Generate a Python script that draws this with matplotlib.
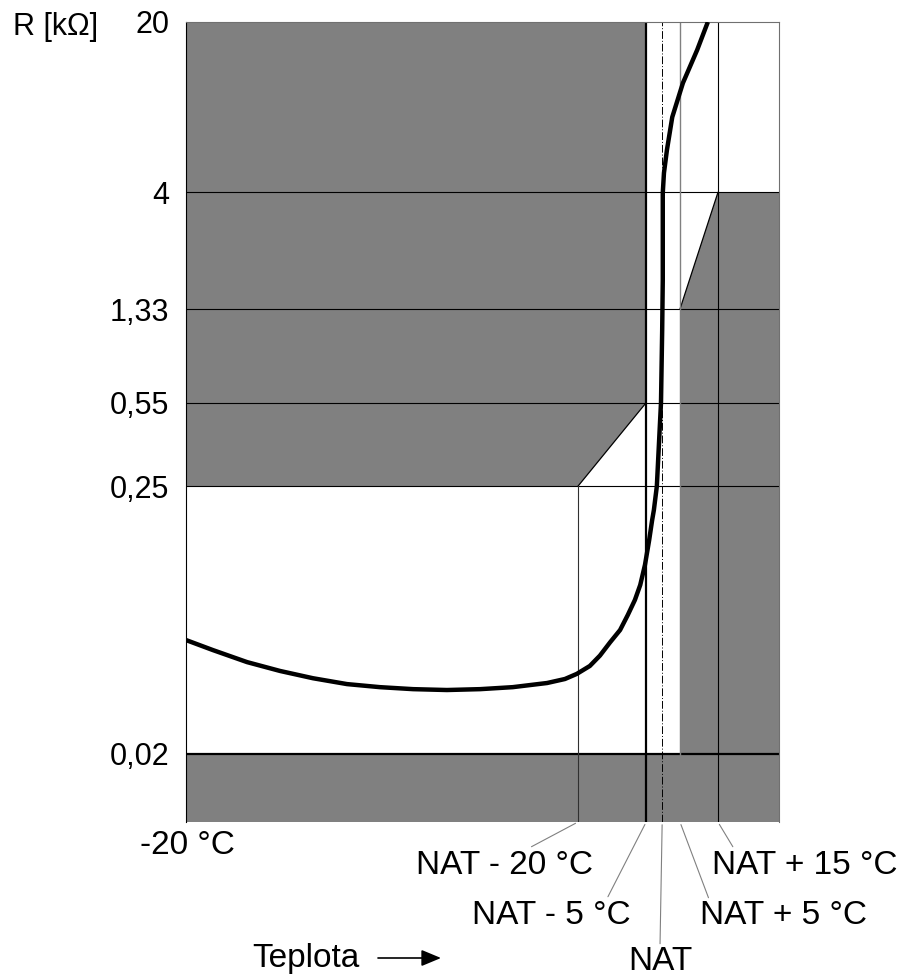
import matplotlib
matplotlib.use("Agg")
import matplotlib.pyplot as plt
from matplotlib.patches import Polygon

plt.rcParams['font.family'] = ['Liberation Sans', 'DejaVu Sans']

# resistance levels on the (log) y axis
r_ticks = [0.02, 0.25, 0.55, 1.33, 4, 20]
r_tick_labels = ['0,02', '0,25', '0,55', '1,33', '4', '20']
r_min = 0.0105

# schematic temperature axis (0 = -20 °C, 100 = right edge)
x_min, x_max = 0, 100
x_marks = [66.1, 77.6, 80.3, 83.3, 89.7]
x_labels = ['NAT - 20 °C', 'NAT - 5 °C', 'NAT', 'NAT + 5 °C', 'NAT + 15 °C']

# sensor curve
curve_x = [0, 4.55, 10.3, 15.85, 21.4, 27.15, 32.7, 38.3, 44.0, 49.6, 55.1, 60.9,
           63.9, 65.9, 68.1, 69.8, 71.5, 73.2, 74.5, 75.7, 76.6, 77.4, 78.1, 78.6,
           78.9, 79.4, 80.1, 80.3, 80.4, 80.4, 80.6, 81.1, 82.0, 83.8, 86.2, 88.0]
curve_r = [0.0585, 0.0532, 0.0475, 0.0437, 0.0408, 0.0386, 0.0375, 0.0368, 0.0365,
           0.0368, 0.0375, 0.0390, 0.0405, 0.0425, 0.0458, 0.0505, 0.0572, 0.0643,
           0.0741, 0.0854, 0.0984, 0.119, 0.150, 0.181, 0.1996, 0.25, 0.55, 1.09,
           1.75, 3.98, 4.81, 5.97, 8.15, 11.25, 15.36, 20]

gray = '#808080'

fig = plt.figure(figsize=(9.01, 9.76), dpi=100)
ax = fig.add_axes([186/901, 1-822/976, 593/901, 800/976])
ax.set_yscale('log')
ax.set_xlim(x_min, x_max)
ax.set_ylim(r_min, r_ticks[-1])

# forbidden zones
upper_left = [(x_min, r_ticks[-1]), (x_marks[1], r_ticks[-1]), (x_marks[1], r_ticks[2]),
              (x_marks[0], r_ticks[1]), (x_min, r_ticks[1])]
bottom = [(x_min, r_min), (x_max, r_min), (x_max, r_ticks[0]), (x_min, r_ticks[0])]
right = [(x_marks[3], r_ticks[0]), (x_marks[3], r_ticks[3]), (x_marks[4], r_ticks[4]),
         (x_max, r_ticks[4]), (x_max, r_min), (x_marks[3], r_min)]
for pts in (upper_left, bottom, right):
    ax.add_patch(Polygon(pts, closed=True, facecolor=gray, edgecolor='none', zorder=1))

# diagonal edges
ax.plot([x_marks[1], x_marks[0]], [r_ticks[2], r_ticks[1]], color='black', lw=0.9, zorder=2)
ax.plot([x_marks[3], x_marks[4]], [r_ticks[3], r_ticks[4]], color='black', lw=0.9, zorder=2)

# horizontal level lines
for r in r_ticks[1:5]:
    ax.axhline(r, color='black', lw=0.8, zorder=2)
ax.axhline(r_ticks[0], color='black', lw=1.6, zorder=2)

# vertical temperature lines
ax.plot([x_marks[0], x_marks[0]], [r_min, r_ticks[1]], color='#303030', lw=0.8, zorder=2)
ax.axvline(x_marks[1], color='black', lw=1.6, zorder=2)
ax.axvline(x_marks[2], color='black', lw=0.7, ls=(0, (8, 2, 1, 2)), zorder=2)
ax.axvline(x_marks[3], color=gray, lw=1.0, zorder=2)
ax.axvline(x_marks[4], color='black', lw=0.8, zorder=2)

# the curve
ax.plot(curve_x, curve_r, color='black', lw=3.2, solid_joinstyle='round',
        solid_capstyle='butt', zorder=3)

# axes styling
ax.set_yticks(r_ticks, r_tick_labels)
ax.yaxis.set_minor_locator(matplotlib.ticker.NullLocator())
ax.set_xticks([])
ax.tick_params(axis='y', length=0, pad=12, labelsize=22)
ax.spines['left'].set_color('black')
ax.spines['left'].set_linewidth(0.8)
for s in ('top', 'right'):
    ax.spines[s].set_color('#707070')
    ax.spines[s].set_linewidth(0.8)
ax.spines['bottom'].set_visible(False)

# labels under the axis with leader lines
label_pos = [(505, 111), (551, 61), (660, 14), (783, 60), (805, 111)]
label_rel = [0.62, 0.85, 0.5, 0.06, 0.12]
for xm, txt, pos, rel in zip(x_marks, x_labels, label_pos, label_rel):
    ax.annotate(txt, xy=(xm, r_min), xycoords='data',
                xytext=pos, textcoords='figure pixels',
                ha='center', va='center', fontsize=24,
                arrowprops=dict(arrowstyle='-', color='#808080', lw=0.8,
                                shrinkA=0, shrinkB=2, relpos=(rel, 1.0)))

fig.text(187/901, 1-846/976, '-20 °C', ha='center', va='center', fontsize=24)
fig.text(13/901, 1-27/976, 'R [kΩ]', ha='left', va='center', fontsize=22)
fig.text(306/901, 1-958/976, 'Teplota', ha='center', va='center', fontsize=24)
ax.annotate('', xy=(441, 18), xycoords='figure pixels',
            xytext=(378, 18), textcoords='figure pixels',
            arrowprops=dict(arrowstyle='-|>,head_length=0.6,head_width=0.25',
                            color='black', lw=1.2, mutation_scale=20,
                            shrinkA=0, shrinkB=0))

fig.savefig('out.png', dpi=100)
